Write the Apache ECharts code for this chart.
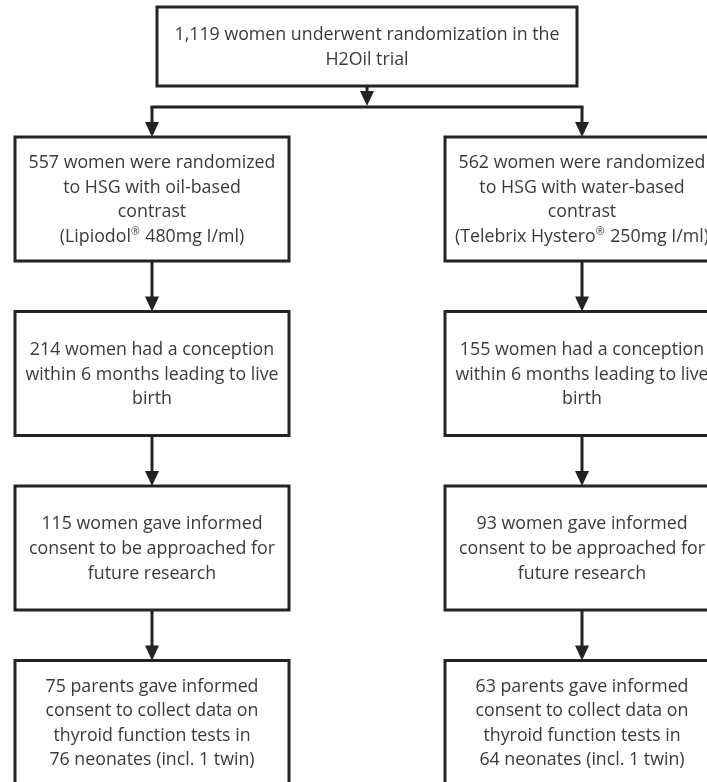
<!DOCTYPE html>
<html><head><meta charset="utf-8">
<script src="https://cdn.jsdelivr.net/npm/echarts@6/dist/echarts.min.js"></script>
<style>html,body{margin:0;padding:0;background:#fff}#c{width:707px;height:782px}</style>
</head><body><div id="c"></div>
<script>
// ---- content ----
const topBoxText = ['1,119 women underwent randomization in the', 'H2Oil trial'];
const oilArmTexts = [
  ['557 women were randomized', 'to HSG with oil-based', 'contrast', '(Lipiodol\u00AE 480mg I/ml)'],
  ['214 women had a conception', 'within 6 months leading to live', 'birth'],
  ['115 women gave informed', 'consent to be approached for', 'future research'],
  ['75 parents gave informed', 'consent to collect data on', 'thyroid function tests in', '76 neonates (incl. 1 twin)']
];
const waterArmTexts = [
  ['562 women were randomized', 'to HSG with water-based', 'contrast', '(Telebrix Hystero\u00AE 250mg I/ml)'],
  ['155 women had a conception', 'within 6 months leading to live', 'birth'],
  ['93 women gave informed', 'consent to be approached for', 'future research'],
  ['63 parents gave informed', 'consent to collect data on', 'thyroid function tests in', '64 neonates (incl. 1 twin)']
];

// ---- layout (flowchart geometry) ----
const LAYOUT = {
  colX: { top: 367, oil: 152, water: 582 },
  top: { y0: 7, y1: 86, w: 420 },
  splitY: 107,
  row0: 137, rowStep: 174.5, boxH: 124, boxW: 274,
  arrowW: 14, arrowH: 15, textDy: 1
};
const FONT = { family: 'Open Sans', size: 17.8, lineHeight: 24.6, color: '#3a3a3a' };
const STROKE = { color: '#232323', width: 3 };

// build nodes
const nodes = [];
nodes.push({ lines: topBoxText, cx: LAYOUT.colX.top, y0: LAYOUT.top.y0, y1: LAYOUT.top.y1, w: LAYOUT.top.w });
function addArm(texts, key) {
  const ids = [];
  texts.forEach((t, i) => {
    const y0 = LAYOUT.row0 + i * LAYOUT.rowStep;
    ids.push(nodes.length);
    nodes.push({ lines: t, cx: LAYOUT.colX[key], y0: y0, y1: y0 + LAYOUT.boxH, w: LAYOUT.boxW });
  });
  return ids;
}
const oilIds = addArm(oilArmTexts, 'oil');
const waterIds = addArm(waterArmTexts, 'water');

// connectors
const connectors = [];
connectors.push([[LAYOUT.colX.top, LAYOUT.top.y1], [LAYOUT.colX.top, LAYOUT.splitY - 1]]);
[oilIds[0], waterIds[0]].forEach(id => {
  connectors.push([[nodes[id].cx, LAYOUT.splitY], [nodes[id].cx, nodes[id].y0]]);
});
[oilIds, waterIds].forEach(ids => {
  for (let i = 0; i < ids.length - 1; i++) {
    const a = nodes[ids[i]], b = nodes[ids[i + 1]];
    connectors.push([[a.cx, a.y1], [b.cx, b.y0]]);
  }
});
const splitLine = [[LAYOUT.colX.oil, LAYOUT.splitY], [LAYOUT.colX.water, LAYOUT.splitY]];

const chart = echarts.init(document.getElementById('c'), null, { renderer: 'canvas' });

const boxData = nodes.map((n, i) => [n.cx, (n.y0 + n.y1) / 2, n.w, n.y1 - n.y0, i]);
const connData = connectors.map(c => [c[0][0], c[0][1], c[1][0], c[1][1], 1]);
connData.push([splitLine[0][0], splitLine[0][1], splitLine[1][0], splitLine[1][1], 0]);

// turn ® into a small superscript rich-text token
function toRich(lines) {
  return lines.map(l => l.split('\u00AE').map(s => s ? '{n|' + s + '}' : '').join('{sup|\u00AE}')).join('\n');
}

chart.setOption({
  animation: false,
  backgroundColor: '#fff',
  grid: { left: 0, right: 0, top: 0, bottom: 0 },
  xAxis: { type: 'value', min: 0, max: 707, show: false },
  yAxis: { type: 'value', min: 0, max: 782, inverse: true, show: false },
  series: [
    {
      type: 'custom',
      clip: false,
      data: connData,
      renderItem: function (params, api) {
        const p0 = api.coord([api.value(0), api.value(1)]);
        const p1 = api.coord([api.value(2), api.value(3)]);
        const hasArrow = api.value(4) === 1;
        const children = [];
        const aw = LAYOUT.arrowW, ah = LAYOUT.arrowH;
        const endY = hasArrow ? p1[1] - ah + 2 : p1[1];
        const vertical = Math.abs(p0[0] - p1[0]) < 0.5;
        children.push({
          type: 'line',
          shape: vertical ? { x1: p0[0], y1: p0[1], x2: p1[0], y2: endY } : { x1: p0[0] - STROKE.width / 2, y1: p0[1], x2: p1[0] + STROKE.width / 2, y2: p1[1] },
          style: { stroke: STROKE.color, lineWidth: STROKE.width }
        });
        if (hasArrow) {
          children.push({
            type: 'polygon',
            shape: { points: [[p1[0] - aw / 2, p1[1] - ah], [p1[0] + aw / 2, p1[1] - ah], [p1[0], p1[1]]] },
            style: { fill: STROKE.color }
          });
        }
        return { type: 'group', children: children };
      }
    },
    {
      type: 'custom',
      clip: false,
      data: boxData,
      renderItem: function (params, api) {
        const c = api.coord([api.value(0), api.value(1)]);
        const s = api.size([api.value(2), api.value(3)]);
        const n = nodes[api.value(4)];
        return {
          type: 'group',
          children: [
            {
              type: 'rect',
              shape: { x: c[0] - s[0] / 2, y: c[1] - s[1] / 2, width: s[0], height: s[1] },
              style: { fill: '#fff', stroke: STROKE.color, lineWidth: STROKE.width }
            },
            {
              type: 'text',
              x: c[0], y: c[1] + LAYOUT.textDy,
              style: {
                text: toRich(n.lines),
                fontFamily: FONT.family, fontSize: FONT.size, lineHeight: FONT.lineHeight,
                fill: FONT.color, align: 'center', verticalAlign: 'middle',
                rich: {
                  n: { fontFamily: FONT.family, fontSize: FONT.size, lineHeight: FONT.lineHeight, fill: FONT.color },
                  sup: { fontFamily: FONT.family, fontSize: 10.5, lineHeight: 10, fill: FONT.color, verticalAlign: 'top', padding: [2, 1, 0, 0] }
                }
              }
            }
          ]
        };
      }
    }
  ]
});
</script>
</body></html>
